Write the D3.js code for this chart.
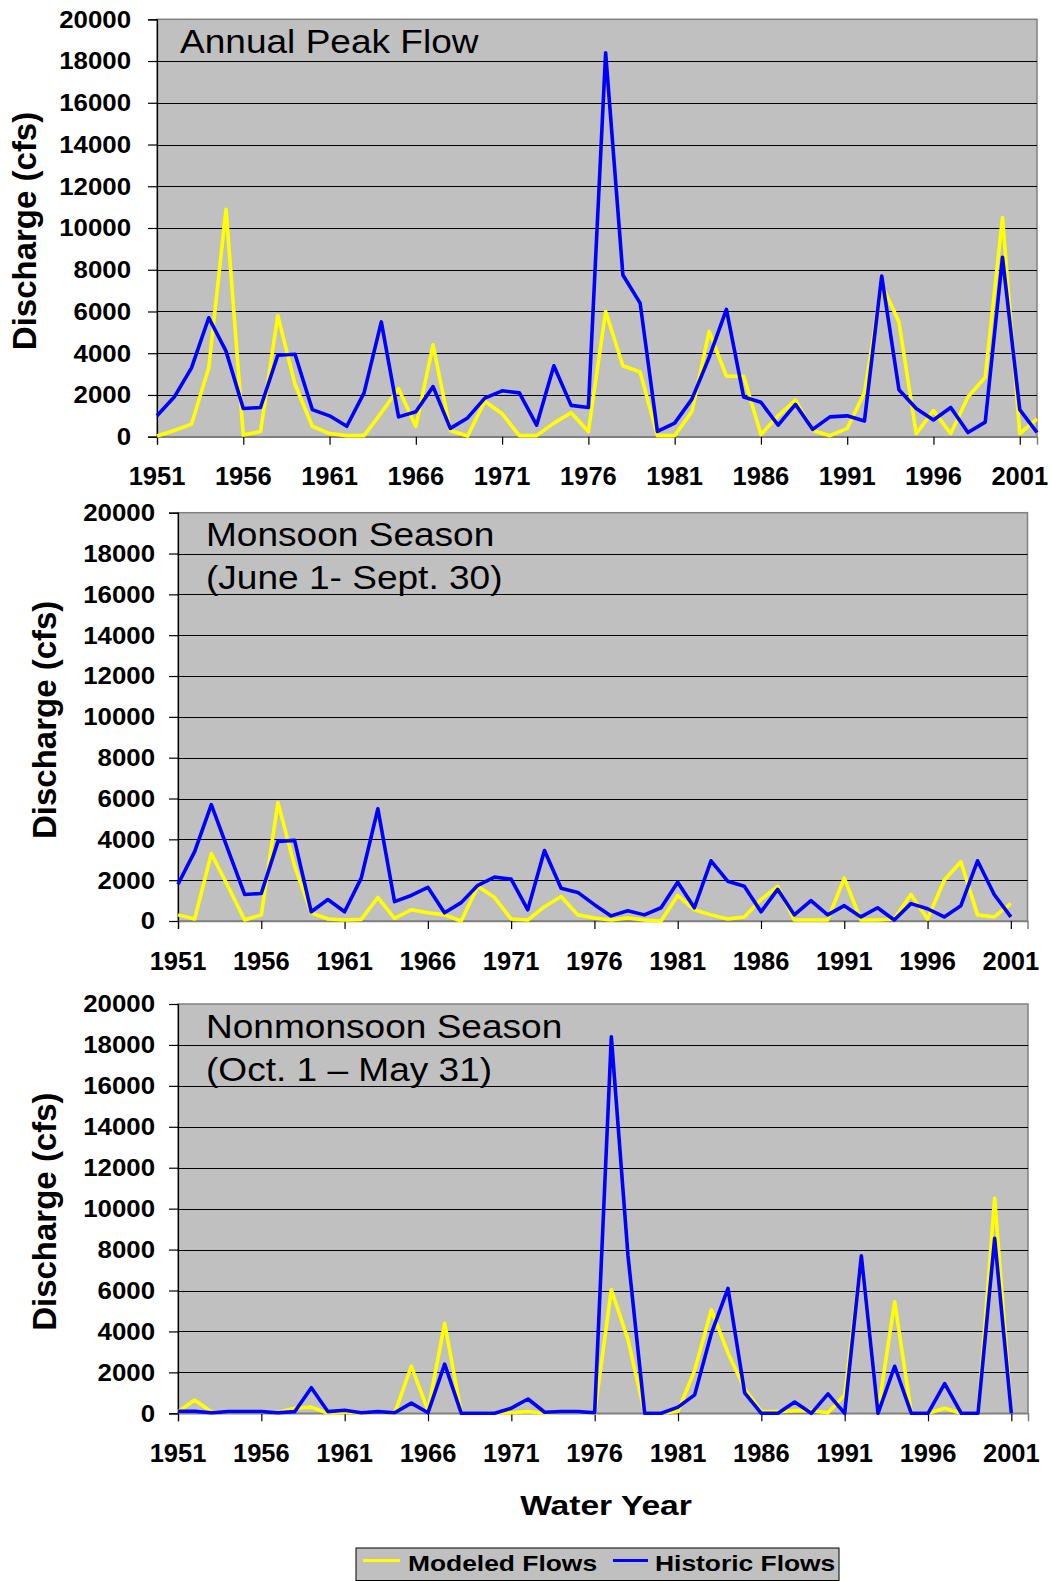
<!DOCTYPE html>
<html>
<head>
<meta charset="utf-8">
<script src="https://cdn.jsdelivr.net/npm/d3@7"></script>
<style>
  html, body { margin: 0; padding: 0; background: #fff; }
  svg { display: block; font-family: "Liberation Sans", Arial, sans-serif; }
</style>
</head>
<body>
<svg id="chart" width="1052" height="1581"></svg>
<script>
// Water years on the category axis
const yearsAnnual = [1951,1952,1953,1954,1955,1956,1957,1958,1959,1960,1961,1962,1963,1964,1965,1966,1967,1968,1969,1970,
  1971,1972,1973,1974,1975,1976,1977,1978,1979,1980,1981,1982,1983,1984,1985,1986,1987,1988,1989,1990,
  1991,1992,1993,1994,1995,1996,1997,1998,1999,2000,2001,2002];
const yearsSeasonal = [1951,1952,1953,1954,1955,1956,1957,1958,1959,1960,1961,1962,1963,1964,1965,1966,1967,1968,1969,1970,
  1971,1972,1973,1974,1975,1976,1977,1978,1979,1980,1981,1982,1983,1984,1985,1986,1987,1988,1989,1990,
  1991,1992,1993,1994,1995,1996,1997,1998,1999,2000,2001];

// Annual peak discharge (cfs)
const annualModeled = [30,300,600,3300,10900,80,250,5800,2500,500,150,50,50,1150,2300,500,4400,300,30,1700,
  1100,50,50,650,1150,250,6000,3400,3100,50,50,1200,5050,2900,2900,100,1000,1750,300,50,
  400,2100,7300,5500,150,1250,150,1900,2850,10500,150,850];
const annualHistoric = [1000,1900,3300,5700,4100,1350,1400,3900,3950,1300,1000,500,2100,5500,950,1200,2400,400,900,1850,
  2200,2100,550,3400,1500,1400,18400,7750,6400,250,650,1800,3800,6100,1900,1650,550,1550,350,950,
  1000,750,7700,2250,1350,800,1400,200,700,8600,1300,200];

// Monsoon season peak discharge (cfs)
const monsoonModeled = [300,100,3300,1700,50,300,5800,2700,400,100,50,80,1150,130,550,400,300,0,1700,1150,
  100,50,700,1200,300,150,50,150,50,0,1250,550,300,100,200,1050,1700,50,50,50,
  2100,50,50,100,1300,100,2000,2900,300,200,850];
const monsoonHistoric = [1800,3400,5700,3500,1300,1350,3900,3950,450,1050,450,2100,5500,950,1250,1650,400,900,1750,2150,
  2050,550,3450,1600,1400,800,250,500,300,650,1900,650,2950,1950,1700,450,1550,300,1000,300,
  750,200,650,50,850,600,200,750,2950,1300,200];

// Nonmonsoon season peak discharge (cfs)
const nonmonsoonModeled = [80,650,80,50,50,50,50,250,300,0,50,0,50,0,2300,130,4400,0,0,0,
  30,80,0,50,50,0,6050,3600,0,0,100,2100,5050,2950,1200,80,80,130,130,30,
  900,7600,80,5450,0,0,250,0,0,10500,0];
const nonmonsoonHistoric = [100,100,30,80,80,80,30,80,1250,80,150,30,80,30,500,30,2400,0,0,0,
  250,700,50,80,80,30,18400,7700,0,0,300,900,3900,6100,1000,0,0,550,0,950,
  0,7700,0,2300,0,0,1450,0,0,8550,0];

const yTicks = [0,2000,4000,6000,8000,10000,12000,14000,16000,18000,20000];
const xTicks = [1951,1956,1961,1966,1971,1976,1981,1986,1991,1996,2001];
const seriesNames = ["Modeled Flows", "Historic Flows"];
const seriesColors = ["#FFFF00", "#0000FF"];

const panels = [
  { title: ["Annual Peak Flow"], years: yearsAnnual, modeled: annualModeled, historic: annualHistoric,
    left: 157, right: 1037, top: 19.3, bottom: 436.7, titleX: 180, titleY: 53, yLabelRight: 131, yTitleX: 36 },
  { title: ["Monsoon Season", "(June 1- Sept. 30)"], years: yearsSeasonal, modeled: monsoonModeled, historic: monsoonHistoric,
    left: 178, right: 1027.5, top: 512.7, bottom: 921, titleX: 206, titleY: 545.7, yLabelRight: 155, yTitleX: 56 },
  { title: ["Nonmonsoon Season", "(Oct. 1 \u2013 May 31)"], years: yearsSeasonal, modeled: nonmonsoonModeled, historic: nonmonsoonHistoric,
    left: 178, right: 1028, top: 1004, bottom: 1413.3, titleX: 206, titleY: 1037.7, yLabelRight: 155, yTitleX: 56 }
];

const svg = d3.select("#chart");

// Text with an optional horizontal stretch
function text(parent, x, y, str, o) {
  o = o || {};
  return parent.append("text")
    .attr("transform", `translate(${x},${y})` + (o.rotate ? ` rotate(${o.rotate})` : "") + ` scale(${o.sx || 1},1)`)
    .attr("font-size", o.size || 20)
    .attr("font-weight", o.bold ? "bold" : "normal")
    .attr("text-anchor", o.anchor || "start")
    .attr("fill", "#000")
    .text(str);
}

panels.forEach(p => {
  const g = svg.append("g");
  const x = d3.scaleLinear().domain([1951, 2002]).range([p.left, p.right]);
  const y = d3.scaleLinear().domain([0, 20000]).range([p.bottom, p.top]);

  // plot area
  g.append("rect")
    .attr("x", p.left).attr("y", p.top)
    .attr("width", p.right - p.left).attr("height", p.bottom - p.top)
    .attr("fill", "#C0C0C0").attr("stroke", "#808080").attr("stroke-width", 1.5);

  // horizontal gridlines
  g.selectAll("line.grid").data(yTicks.filter(v => v > 0 && v < 20000)).join("line")
    .attr("class", "grid")
    .attr("x1", p.left).attr("x2", p.right)
    .attr("y1", d => Math.round(y(d)) + 0.5).attr("y2", d => Math.round(y(d)) + 0.5)
    .attr("stroke", "#000").attr("stroke-width", 1);

  // y axis
  const yAxis = d3.axisLeft(y).tickValues(yTicks).tickSize(9).tickFormat("");
  const ya = g.append("g").attr("transform", `translate(${p.left},0)`).call(yAxis);
  ya.selectAll("path, line").attr("stroke", "#000").attr("stroke-width", 1.2);
  yTicks.forEach(v => {
    text(g, p.yLabelRight, y(v) + 8.4, String(v), { size: 23.5, bold: true, anchor: "end", sx: 1.1 });
  });

  // x axis
  const xAxis = d3.axisBottom(x).tickValues(xTicks).tickSize(8).tickFormat("");
  const xa = g.append("g").attr("transform", `translate(0,${p.bottom})`).call(xAxis);
  xa.selectAll("path").attr("stroke", "#808080").attr("stroke-width", 1.5);
  xa.selectAll("line").attr("stroke", "#000").attr("stroke-width", 1.2);
  xTicks.forEach(v => {
    text(g, x(v), p.bottom + 48.5, String(v), { size: 25.5, bold: true, anchor: "middle" });
  });

  // y axis title
  text(g, p.yTitleX, (p.top + p.bottom) / 2 + 3, "Discharge (cfs)", { size: 33, bold: true, anchor: "middle", rotate: -90 });

  // panel title
  p.title.forEach((line, i) => {
    text(g, p.titleX, p.titleY + i * 42.8, line, { size: 34, sx: 1.09 });
  });

  // flow lines
  const line = d3.line().x(d => x(d[0])).y(d => y(d[1]));
  [p.modeled, p.historic].forEach((vals, k) => {
    g.append("path")
      .datum(p.years.map((yr, i) => [yr, vals[i]]))
      .attr("d", line)
      .attr("fill", "none")
      .attr("stroke", seriesColors[k])
      .attr("stroke-width", 3.6)
      .attr("stroke-linejoin", "round")
      .attr("stroke-linecap", "butt");
  });
});

// shared x axis title
text(svg, 606, 1515, "Water Year", { size: 28, bold: true, anchor: "middle", sx: 1.2 });

// legend
const leg = svg.append("g");
leg.append("rect").attr("x", 356).attr("y", 1548).attr("width", 483).attr("height", 32.5)
  .attr("fill", "#C0C0C0").attr("stroke", "#000").attr("stroke-width", 1);
const legItems = [
  { x1: 363, x2: 400, tx: 408 },
  { x1: 613, x2: 648, tx: 655 }
];
legItems.forEach((it, k) => {
  leg.append("line").attr("x1", it.x1).attr("x2", it.x2).attr("y1", 1560.5).attr("y2", 1560.5)
    .attr("stroke", seriesColors[k]).attr("stroke-width", 3.2);
  text(leg, it.tx, 1571, seriesNames[k], { size: 22, bold: true, sx: 1.2 });
});
</script>
</body>
</html>
